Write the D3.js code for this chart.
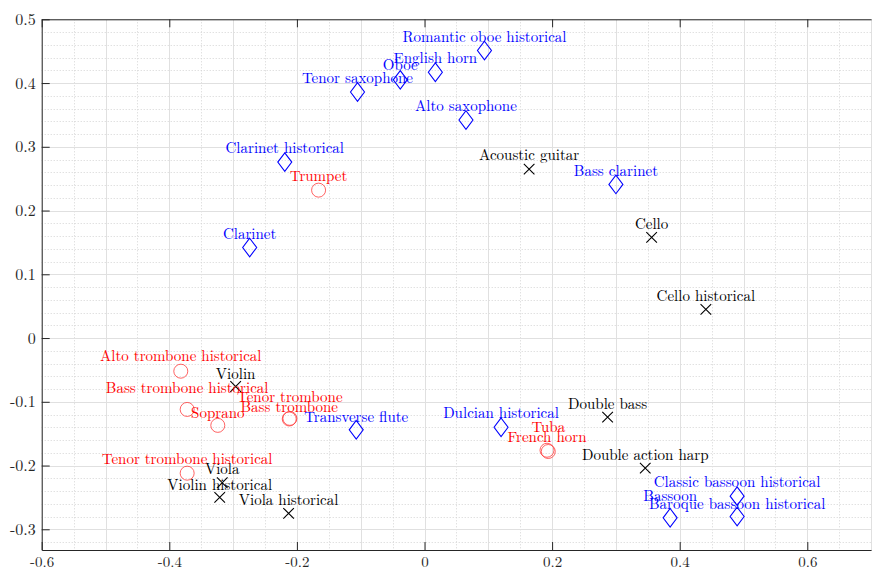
<!DOCTYPE html>
<html>
<head>
<meta charset="utf-8">
<script src="https://cdn.jsdelivr.net/npm/d3@7"></script>
</head>
<body style="margin:0; background:#fff">
<div id="chart"></div>
<script>
// woodwinds (blue diamonds)
var windNames = ["Romantic oboe historical", "English horn", "Oboe", "Tenor saxophone", "Alto saxophone",
  "Clarinet historical", "Bass clarinet", "Clarinet", "Transverse flute", "Dulcian historical",
  "Classic bassoon historical", "Bassoon", "Baroque bassoon historical"];
var windX = [0.094, 0.017, -0.038, -0.105, 0.065, -0.219, 0.300, -0.274, -0.107, 0.120, 0.490, 0.385, 0.490];
var windY = [0.451, 0.417, 0.405, 0.386, 0.342, 0.276, 0.241, 0.142, -0.144, -0.140, -0.248, -0.282, -0.280];
var windLift = [0.022, 0.022, 0.023, 0.022, 0.022, 0.022, 0.022, 0.022, 0.0205, 0.0235, 0.022, 0.0345, 0.0205];

// strings (black crosses)
var stringNames = ["Acoustic guitar", "Cello", "Cello historical", "Violin", "Double bass",
  "Double action harp", "Viola", "Violin historical", "Viola historical"];
var stringX = [0.164, 0.356, 0.441, -0.296, 0.287, 0.346, -0.317, -0.321, -0.213];
var stringY = [0.265, 0.158, 0.045, -0.076, -0.124, -0.204, -0.227, -0.250, -0.275];
var stringLift = [0.022, 0.022, 0.022, 0.0205, 0.0205, 0.0205, 0.022, 0.0205, 0.022];

// brass + voice (red circles)
var brassNames = ["Trumpet", "Alto trombone historical", "Bass trombone historical", "Soprano",
  "Tenor trombone", "Bass trombone", "Tenor trombone historical", "Tuba", "French horn"];
var brassX = [-0.166, -0.382, -0.372, -0.324, -0.211, -0.212, -0.372, 0.194, 0.192];
var brassY = [0.232, -0.052, -0.112, -0.137, -0.126, -0.127, -0.212, -0.178, -0.176];
var brassLift = [0.022, 0.0235, 0.0345, 0.0205, 0.0345, 0.019, 0.022, 0.039, 0.0205];

var xTicks = [-0.6, -0.4, -0.2, 0, 0.2, 0.4, 0.6];
var yTicks = [-0.3, -0.2, -0.1, 0, 0.1, 0.2, 0.3, 0.4, 0.5];

var FONT = "'Latin Modern Roman', 'Liberation Serif', serif";
var W = 872, H = 571;
var plotLeft = 41.7, plotRight = 871.1, plotTop = 19.3, plotBottom = 550;

var x = d3.scaleLinear().domain([-0.6, 0.7]).range([plotLeft, plotRight]);
var y = d3.scaleLinear().domain([-0.3325, 0.5]).range([plotBottom, plotTop]);

var svg = d3.select("#chart").append("svg")
  .attr("width", W)
  .attr("height", H)
  .attr("font-family", FONT);

svg.append("rect").attr("width", W).attr("height", H).attr("fill", "#fff");

function offTenth(v) { return Math.abs(v * 10 - Math.round(v * 10)) > 1e-6; }
var px = function (v) { return Math.round(v) + 0.5; };

// minor grid (dotted), then major grid
var grid = svg.append("g").attr("class", "grid");
var xMinor = d3.range(-0.6, 0.7001, 0.05).filter(offTenth);
var yMinor = d3.range(-0.32, 0.5001, 0.02).filter(offTenth);
grid.selectAll(".xm").data(xMinor).enter().append("line")
  .attr("x1", function (d) { return px(x(d)); })
  .attr("x2", function (d) { return px(x(d)); })
  .attr("y1", plotTop).attr("y2", plotBottom)
  .attr("stroke", "#d4d4d4").attr("stroke-dasharray", "1,2");
grid.selectAll(".ym").data(yMinor).enter().append("line")
  .attr("y1", function (d) { return px(y(d)); })
  .attr("y2", function (d) { return px(y(d)); })
  .attr("x1", plotLeft).attr("x2", plotRight)
  .attr("stroke", "#d4d4d4").attr("stroke-dasharray", "1,2");
grid.selectAll(".xM").data(d3.range(-0.6, 0.7001, 0.1)).enter().append("line")
  .attr("x1", function (d) { return px(x(d)); })
  .attr("x2", function (d) { return px(x(d)); })
  .attr("y1", plotTop).attr("y2", plotBottom)
  .attr("stroke", "#e0e0e0");
grid.selectAll(".yM").data(yTicks).enter().append("line")
  .attr("y1", function (d) { return px(y(d)); })
  .attr("y2", function (d) { return px(y(d)); })
  .attr("x1", plotLeft).attr("x2", plotRight)
  .attr("stroke", "#e0e0e0");

// axes, ticks pointing inward
var fmt = function (d) { return Math.abs(d) < 1e-9 ? "0" : String(+d.toFixed(1)); };
var xAxis = d3.axisBottom(x).tickValues(xTicks).tickSizeInner(-8).tickSizeOuter(0).tickPadding(6).tickFormat(fmt);
var yAxis = d3.axisLeft(y).tickValues(yTicks).tickSizeInner(-8).tickSizeOuter(0).tickPadding(6).tickFormat(fmt);
var topAxis = d3.axisTop(x).tickValues(xTicks).tickSizeInner(-8).tickSizeOuter(0).tickFormat("");

svg.append("g").attr("class", "x axis")
  .attr("transform", "translate(0," + plotBottom + ")")
  .call(xAxis);
svg.append("g").attr("class", "y axis")
  .attr("transform", "translate(" + plotLeft + ",0)")
  .call(yAxis);
svg.append("g").attr("class", "top axis")
  .attr("transform", "translate(0," + plotTop + ")")
  .call(topAxis);
svg.selectAll(".axis").attr("font-family", FONT).attr("font-size", 15);
svg.selectAll(".y.axis").attr("font-size", 16);
svg.selectAll(".axis path, .axis line").attr("stroke", "#262626");
svg.selectAll(".axis text").attr("fill", "#262626");

// markers + labels
function addGroup(names, xs, ys, lifts, color, shape) {
  var rows = names.map(function (n, i) { return { name: n, x: xs[i], y: ys[i], lift: lifts[i] }; });
  var g = svg.append("g");
  var m = g.selectAll(".m").data(rows).enter().append("path")
    .attr("transform", function (d) { return "translate(" + x(d.x) + "," + y(d.y) + ")"; })
    .attr("fill", "none");
  if (shape === "diamond") {
    m.attr("d", "M0,-9.3L7,0L0,9.3L-7,0Z").attr("stroke", color).attr("stroke-width", 1.1);
  } else if (shape === "cross") {
    m.attr("d", "M-5.3,-5.3L5.3,5.3M-5.3,5.3L5.3,-5.3").attr("stroke", color).attr("stroke-width", 1.1);
  } else {
    m.attr("d", d3.symbol(d3.symbolCircle, Math.PI * 49)()).attr("stroke", "#ff3b3b").attr("stroke-width", 0.8);
  }
  g.selectAll(".t").data(rows).enter().append("text")
    .attr("x", function (d) { return x(d.x); })
    .attr("y", function (d) { return y(d.y + d.lift); })
    .attr("dy", "0.35em")
    .attr("text-anchor", "middle")
    .attr("fill", color)
    .attr("font-family", FONT)
    .attr("font-size", 15)
    .text(function (d) { return d.name; });
}

addGroup(windNames, windX, windY, windLift, "#0000ff", "diamond");
addGroup(stringNames, stringX, stringY, stringLift, "#000000", "cross");
addGroup(brassNames, brassX, brassY, brassLift, "#ff0000", "circle");
</script>
</body>
</html>
